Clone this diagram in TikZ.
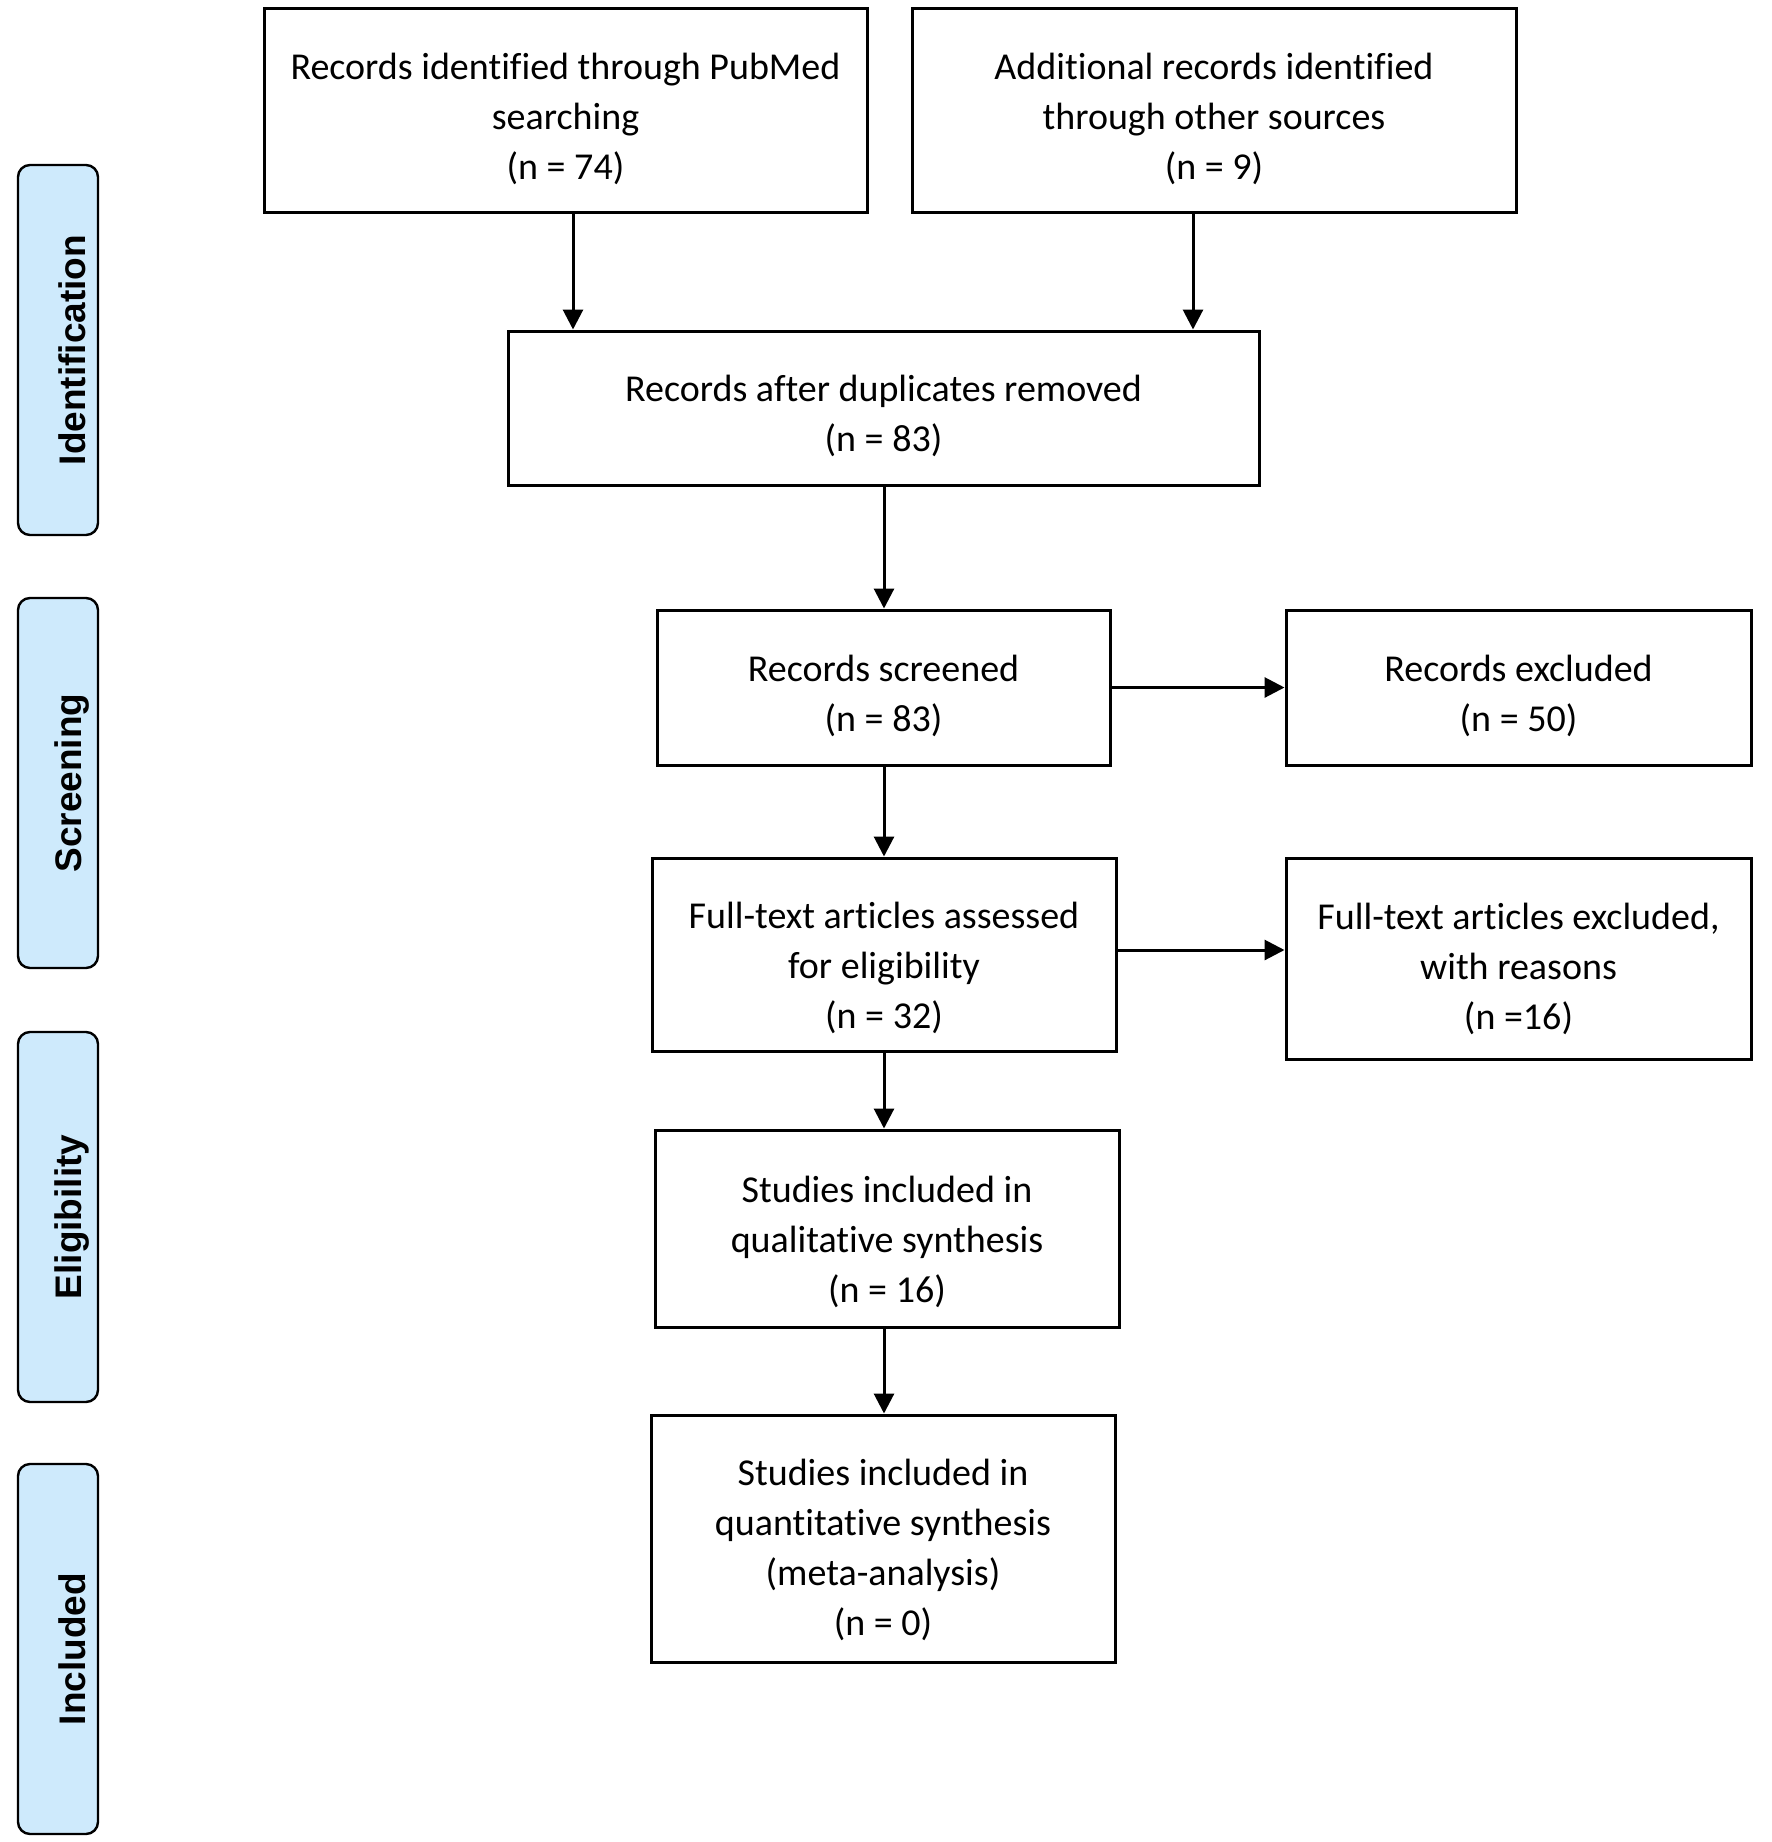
\documentclass[tikz,border=0pt]{standalone}
\usepackage{fontspec}
\setmainfont{Carlito}[RawFeature=-liga]
\newfontfamily\sidefont{Liberation Sans}
\usetikzlibrary{arrows.meta,calc}
\definecolor{sideblue}{RGB}{206,234,252}
\begin{document}
\begin{tikzpicture}[x=1pt,y=-1pt,
 box/.style={draw,line width=3pt,inner sep=0pt},
 txt/.style={align=center,inner sep=0pt,font=\fontsize{38}{50}\selectfont},
 side/.style={draw,line width=2.4pt,fill=sideblue,rounded corners=12pt,minimum width=80pt,minimum height=370pt,inner sep=0pt},
 sidelabel/.style={rotate=90,inner sep=0pt,font=\sidefont\bfseries\fontsize{37}{40}\selectfont},
 arr/.style={line width=3pt,-{Triangle[length=20pt,width=20pt]}}]
\useasboundingbox (0,0) rectangle (1772,1842);
% side bars
\node[side] (s1) at (58,350) {};
\node[sidelabel] (l1) at ($(s1.center)+(14,0)$) {Identification};
\node[side] (s2) at (58,783) {};
\node[sidelabel] (l2) at ($(s2.center)+(14,0)$) {Screening};
\node[side] (s3) at (58,1217) {};
\node[sidelabel] (l3) at ($(s3.center)+(14,0)$) {Eligibility};
\node[side] (s4) at (58,1649) {};
\node[sidelabel] (l4) at ($(s4.center)+(14,0)$) {Included};
% boxes
\node[box,minimum width=603pt,minimum height=204pt] (A) at (565.5,110) {};
\node[txt] (At) at ($(A.center)+(0,9)$) {Records identified through PubMed\\searching\\(n = 74)};
\node[box,minimum width=604pt,minimum height=204pt] (B) at (1214,110) {};
\node[txt] (Bt) at ($(B.center)+(0,9)$) {Additional records identified\\through other sources\\(n = 9)};
\node[box,minimum width=751pt,minimum height=154pt] (C) at (883.5,408) {};
\node[txt] (Ct) at ($(C.center)+(0,8)$) {Records after duplicates removed\\(n = 83)};
\node[box,minimum width=453pt,minimum height=155pt] (D) at (883.5,687.5) {};
\node[txt] (Dt) at ($(D.center)+(0,8)$) {Records screened\\(n = 83)};
\node[box,minimum width=465pt,minimum height=155pt] (E) at (1518.5,687.5) {};
\node[txt] (Et) at ($(E.center)+(0,8)$) {Records excluded\\(n = 50)};
\node[box,minimum width=464pt,minimum height=193pt] (F) at (884,954.5) {};
\node[txt] (Ft) at ($(F.center)+(0,13)$) {Full-text articles assessed\\for eligibility\\(n = 32)};
\node[box,minimum width=465pt,minimum height=201pt] (G) at (1518.5,958.5) {};
\node[txt] (Gt) at ($(G.center)+(0,10)$) {Full-text articles excluded,\\with reasons\\(n =16)};
\node[box,minimum width=464pt,minimum height=197pt] (H) at (887,1228.5) {};
\node[txt] (Ht) at ($(H.center)+(0,13)$) {Studies included in\\qualitative synthesis\\(n = 16)};
\node[box,minimum width=464pt,minimum height=247pt] (I) at (883,1538.5) {};
\node[txt] (It) at ($(I.center)+(0,11)$) {Studies included in\\quantitative synthesis\\(meta-analysis)\\(n = 0)};
% connectors
\coordinate (xa) at (573,0);
\coordinate (xb) at (1193,0);
\coordinate (xm) at (884,0);
\coordinate (yf) at (0,950);
\draw[arr] (xa |- A.south) -- (xa |- C.north);
\draw[arr] (xb |- B.south) -- (xb |- C.north);
\draw[arr] (xm |- C.south) -- (xm |- D.north);
\draw[arr] (D.east) -- (E.west);
\draw[arr] (xm |- D.south) -- (xm |- F.north);
\draw[arr] (F.east |- yf) -- (G.west |- yf);
\draw[arr] (xm |- F.south) -- (xm |- H.north);
\draw[arr] (xm |- H.south) -- (xm |- I.north);
\end{tikzpicture}
\end{document}
